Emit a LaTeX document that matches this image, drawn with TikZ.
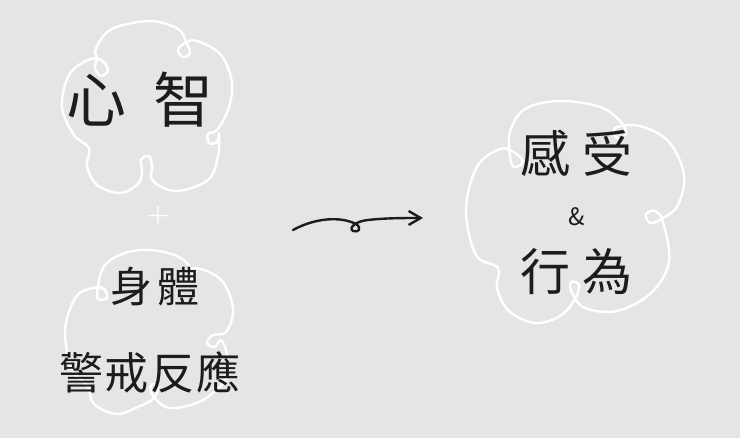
\documentclass[tikz,border=0pt]{standalone}
\usepackage{fontspec}
\newfontfamily\cjk{Noto Sans CJK TC}
\usetikzlibrary{arrows.meta}
\definecolor{paper}{RGB}{227,229,231}
\definecolor{ink}{RGB}{28,28,30}

\begin{document}
\begin{tikzpicture}[x=0.5pt,y=-0.5pt,
  cloudline/.style={draw=white,line width=1.2pt,line join=round,line cap=round},
  handtext/.style={text=ink,inner sep=0,font=\cjk},
  inkline/.style={draw=ink,line width=1.2pt,line cap=round}]
	\fill[paper] (0,0) rectangle (740,438);
	\useasboundingbox (0,0) rectangle (740,438);
	% clouds
	\draw[cloudline] plot[smooth cycle,tension=0.6] coordinates {
		(96,48) (112,29) (150,21) (178,29) (186,42) (190,53) (183,57) (178,50) (185,43) (197,41)
		(221,55) (232,83) (228,110) (217,130) (208,134) (209,143) (217,142) (219,133)
		(218,156) (208,180) (176,191) (153,181) (152,166) (149,156) (141,160) (142,172)
		(138,184) (120,193) (97,185) (87,166) (89,148)
		(74,135) (62,107) (69,75) (88,60) (101,60) (108,70) (101,76) (95,68) (97,58)};
	\draw[cloudline] plot[smooth cycle,tension=0.6] coordinates {
		(105,265) (125,253) (150,250) (177,256) (190,267) (193,278) (185,280) (184,271) (201,269)
		(223,282) (233,310) (226,332) (213,335) (207,343) (215,347) (221,340)
		(227,355) (225,380) (201,401) (170,408) (153,396) (151,385) (158,387) (153,399)
		(140,406) (117,414) (94,404) (87,385)
		(72,370) (65,330) (76,297) (93,288) (104,289) (107,298) (98,299) (98,286)};
	\draw[cloudline] plot[smooth cycle,tension=0.6] coordinates {
		(510,132) (525,109) (560,101) (600,107) (621,122) (626,134) (617,138) (615,128) (640,126)
		(669,142) (684,175) (678,205) (663,218) (650,223) (646,214) (655,211) (663,222)
		(669,262) (651,293) (617,311) (585,308) (572,293) (571,282) (579,285) (575,299)
		(560,316) (535,323) (509,311) (497,288) (498,268)
		(476,255) (466,210) (477,167) (500,149) (515,153) (523,162) (514,167) (510,156)};
	% texts
	\node[handtext,font=\cjk\fontsize{30}{30}\selectfont] (mind) at (140,100) {心\hspace{14pt}智};
	\node[text=white,inner sep=0,font=\bfseries\fontsize{13}{13}\selectfont] (plus) at (158,216) {+};
	\node[handtext,font=\cjk\fontsize{21}{21}\selectfont] (body) at (155,287) {身\hspace{3pt}體};
	\node[handtext,font=\cjk\fontsize{22}{22}\selectfont] (alarm) at (150,372) {警\hspace{1pt}戒\hspace{1pt}反\hspace{1pt}應};
	\node[handtext,font=\cjk\fontsize{25}{25}\selectfont] (feel) at (576,153) {感\hspace{6pt}受};
	\node[handtext,font=\cjk\fontsize{12}{12}\selectfont] (amp) at (577,217) {\&};
	\node[handtext,font=\cjk\fontsize{25}{25}\selectfont] (act) at (576,272) {行\hspace{6pt}為};
	% arrow
	\coordinate (arrfrom) at (293,230);
	\coordinate (arrto) at (423,218);
	\draw[inkline,-{Straight Barb[length=6pt,width=7pt]}] (arrfrom)
		.. controls (315,218) and (340,216) .. (356,224)
		.. controls (362,228) and (359,233) .. (353,231)
		.. controls (348,228) and (356,221) .. (368,220)
		.. controls (385,218) and (405,218) .. (arrto);
\end{tikzpicture}
\end{document}
